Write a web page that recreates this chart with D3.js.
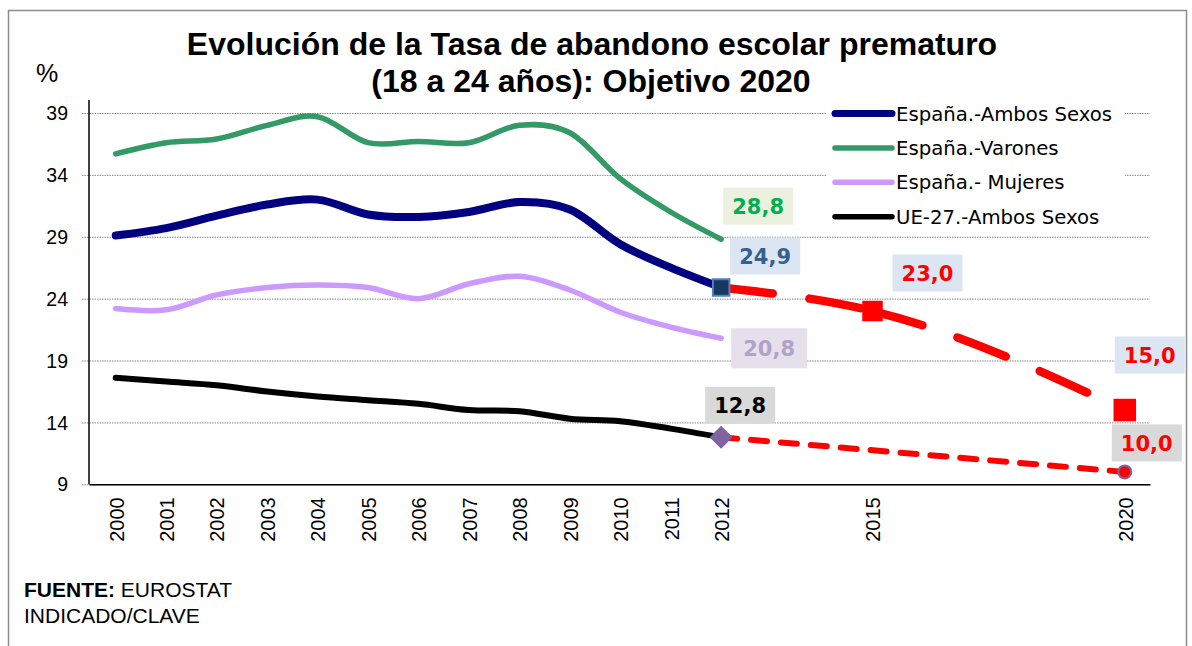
<!DOCTYPE html>
<html><head><meta charset="utf-8">
<script src="https://cdn.jsdelivr.net/npm/d3@7"></script>
<style>html,body{margin:0;padding:0;background:#fff}svg{display:block}</style>
</head><body>
<svg id="chart" width="1192" height="646"></svg>
<script>
// ---------- DATA ----------
const years = [2000,2001,2002,2003,2004,2005,2006,2007,2008,2009,2010,2011,2012];
const ambosSexos = [29.1,29.7,30.7,31.6,32.0,30.8,30.6,31.0,31.8,31.2,28.4,26.5,24.9];
const varones    = [35.7,36.6,36.9,38.0,38.7,36.6,36.7,36.6,38.0,37.4,33.7,31.0,28.8];
const mujeres    = [23.2,23.1,24.3,24.9,25.1,24.9,24.0,25.2,25.8,24.7,22.9,21.7,20.8];
const ue27       = [17.6,17.3,17.0,16.5,16.1,15.8,15.5,15.0,14.9,14.3,14.1,13.5,12.8];
const objetivoYears = [2012,2015,2020];
const objetivoEspana = [24.9,23.0,15.0];
const objetivoUEYears = [2012,2020];
const objetivoUE = [12.8,10.0];
const xTickYears = [2000,2001,2002,2003,2004,2005,2006,2007,2008,2009,2010,2011,2012,2015,2020];
const yTickValues = [9,14,19,24,29,34,39];
const seriesNames = ["España.-Ambos Sexos","España.-Varones","España.- Mujeres","UE-27.-Ambos Sexos"];
const labelYears  = [2012,2012,2012,2012,2015,2020,2020];
const labelValues = [28.8,24.9,20.8,12.8,23.0,15.0,10.0];
const titleLines = ["Evolución de la Tasa de abandono escolar prematuro","(18 a 24 años): Objetivo 2020"];

// ---------- STYLE ----------
const seriesColors = ["#000080","#339966","#CC99FF","#000000"];
const seriesWidths = [8,5.5,5.5,6];
const labelStyle = [
  {dx:37, dy:-33, w:70, h:37, color:"#00B050", bg:"#EBF1DE"},
  {dx:44, dy:-31.5, w:70, h:37, color:"#376092", bg:"#DCE6F2"},
  {dx:48, dy:10, w:76, h:40, color:"#B3A2C7", bg:"#E6E0EC"},
  {dx:19, dy:-32, w:70, h:37, color:"#000000", bg:"#D9D9D9"},
  {dx:55, dy:-38, w:70, h:37, color:"#FF0000", bg:"#DCE6F2"},
  {dx:25, dy:-55, w:70, h:37, color:"#FF0000", bg:"#DCE6F2"},
  {dx:22, dy:-29, w:70, h:37, color:"#FF0000", bg:"#D9D9D9"}
];

const svg = d3.select("#chart");
const x = d3.scaleLinear().domain([1999.47, 2020.5]).range([89, 1150]);
const y = d3.scaleLinear().domain([9, 40]).range([484.3, 100.6]);

// outer frame
svg.append("rect").attr("x",8.5).attr("y",10.5).attr("width",1178).attr("height",700)
  .attr("fill","#fff").attr("stroke","#8c8c8c").attr("stroke-width",1.5);

// title
svg.append("text").attr("x",592).attr("y",55).attr("text-anchor","middle")
  .attr("font-family","Liberation Sans, Arial, sans-serif").attr("font-weight","bold").attr("font-size",32)
  .text(titleLines[0]);
svg.append("text").attr("x",591).attr("y",92).attr("text-anchor","middle")
  .attr("font-family","Liberation Sans, Arial, sans-serif").attr("font-weight","bold").attr("font-size",32)
  .text(titleLines[1]);
svg.append("text").attr("x",36).attr("y",82).attr("font-family","Liberation Sans, Arial, sans-serif")
  .attr("font-size",25).text("%");

// gridlines + y axis
const yAxis = d3.axisLeft(y).tickValues(yTickValues).tickSize(-(1150-82)).tickPadding(14).tickFormat(d3.format("d"));
const gy = svg.append("g").attr("transform","translate(82,0)").call(yAxis);
gy.select(".domain").remove();
gy.selectAll(".tick line").attr("stroke","#888").attr("stroke-width",1).attr("stroke-dasharray","1.5,1");
gy.selectAll(".tick text").attr("font-family","Liberation Sans, Arial, sans-serif").attr("font-size",19.5)
  .attr("fill","#000").attr("x",-14).attr("dy","0.34em");

svg.append("line").attr("x1",89).attr("x2",89).attr("y1",100).attr("y2",484.3).attr("stroke","#000").attr("stroke-width",1.5);

// x axis
const xAxis = d3.axisBottom(x).tickValues(xTickYears).tickSize(0).tickFormat(d3.format("d"));
const gx = svg.append("g").attr("transform","translate(0,484.3)").call(xAxis);
gx.select(".domain").attr("stroke","#000").attr("stroke-width",1.5);
gx.selectAll(".tick text").attr("font-family","Liberation Sans, Arial, sans-serif").attr("font-size",20)
  .attr("fill","#000").attr("text-anchor","end").attr("dy",null).attr("y",null)
  .attr("transform","translate(7.3,13) rotate(-90)");

// legend background
svg.append("rect").attr("x",826).attr("y",98).attr("width",299).attr("height",135).attr("fill","#fff");

// series lines
const allSeries = [ambosSexos, varones, mujeres, ue27];
const line = d3.line().x(d=>x(d[0])).y(d=>y(d[1])).curve(d3.curveCardinal.tension(0));
[1,2,3,0].forEach(i=>{
  svg.append("path").datum(years.map((yr,k)=>[yr, allSeries[i][k]]))
    .attr("d", line).attr("fill","none").attr("stroke",seriesColors[i])
    .attr("stroke-width",seriesWidths[i]).attr("stroke-linecap","round").attr("stroke-linejoin","round");
});

// UE objective (dashed red)
svg.append("path").datum(objetivoUEYears.map((yr,k)=>[yr, objetivoUE[k]]))
  .attr("d", d3.line().x(d=>x(d[0])).y(d=>y(d[1]))).attr("fill","none").attr("stroke","#FF0000")
  .attr("stroke-width",6).attr("stroke-linecap","round").attr("stroke-dasharray","16,14");

// Spain objective: smoothed, split so the dash pattern restarts at each point
const objLine = d3.line().x(d=>x(d[0])).y(d=>y(d[1])).curve(d3.curveMonotoneX);
const objPts = objetivoYears.map((yr,k)=>[yr, objetivoEspana[k]]);
const parts = objLine(objPts).slice(1).split("C");
parts.slice(1).forEach((seg,k)=>{
  const p = objPts[k];
  svg.append("path").attr("d", `M${x(p[0])},${y(p[1])}C${seg}`).attr("fill","none")
    .attr("stroke","#FF0000").attr("stroke-width",8.5).attr("stroke-linecap","round")
    .attr("stroke-dasharray","52,37");
});

// markers
const sq = (cx,cy,s,fill,stroke,sw)=>svg.append("rect").attr("x",cx-s/2).attr("y",cy-s/2)
  .attr("width",s).attr("height",s).attr("fill",fill).attr("stroke",stroke||"none").attr("stroke-width",sw||0);
sq(x(years[12]), y(ambosSexos[12]), 16.5, "#17375E", "#4F81BD", 2);
svg.append("path").attr("d", d3.symbol(d3.symbolSquare, 230)())
  .attr("transform",`translate(${x(years[12])},${y(ue27[12])}) rotate(45)`)
  .attr("fill","#8064A2").attr("stroke","#7a5f9c").attr("stroke-width",1);
sq(x(objetivoYears[1]), y(objetivoEspana[1]), 20.5, "#FF0000");
sq(x(objetivoYears[2]), y(objetivoEspana[2]), 22.5, "#FF0000");
svg.append("circle").attr("cx",x(objetivoUEYears[1])).attr("cy",y(objetivoUE[1])).attr("r",6.5)
  .attr("fill","#FF0000").attr("stroke","#7F63A1").attr("stroke-width",2);

// data labels
const fmt = v => d3.format(".1f")(v).replace(".",",");
labelValues.forEach((v,i)=>{
  const st = labelStyle[i];
  const cx = x(labelYears[i]) + st.dx, cy = y(v) + st.dy;
  svg.append("rect").attr("x",cx-st.w/2).attr("y",cy-st.h/2).attr("width",st.w).attr("height",st.h).attr("fill",st.bg);
  svg.append("text").attr("x",cx).attr("y",cy+7.7).attr("text-anchor","middle")
    .attr("font-family","DejaVu Sans, Verdana, sans-serif").attr("font-weight","bold").attr("font-size",21)
    .attr("fill",st.color).text(fmt(v));
});

// legend
seriesNames.forEach((name,i)=>{
  const cy = 113.5 + i*34.4;
  svg.append("line").attr("x1",835).attr("x2",892).attr("y1",cy).attr("y2",cy)
    .attr("stroke",seriesColors[i]).attr("stroke-width",i===0?7:5.5).attr("stroke-linecap","round");
  svg.append("text").attr("x",896).attr("y",cy+7).attr("font-family","DejaVu Sans, Verdana, sans-serif")
    .attr("font-size",19.7).attr("fill","#000").text(name);
});

// source
const src = svg.append("text").attr("x",24).attr("y",597).attr("font-family","Liberation Sans, Arial, sans-serif").attr("font-size",21);
src.append("tspan").attr("font-weight","bold").text("FUENTE:");
src.append("tspan").text(" EUROSTAT");
svg.append("text").attr("x",24).attr("y",623).attr("font-family","Liberation Sans, Arial, sans-serif").attr("font-size",21).text("INDICADO/CLAVE");
</script>
</body></html>
